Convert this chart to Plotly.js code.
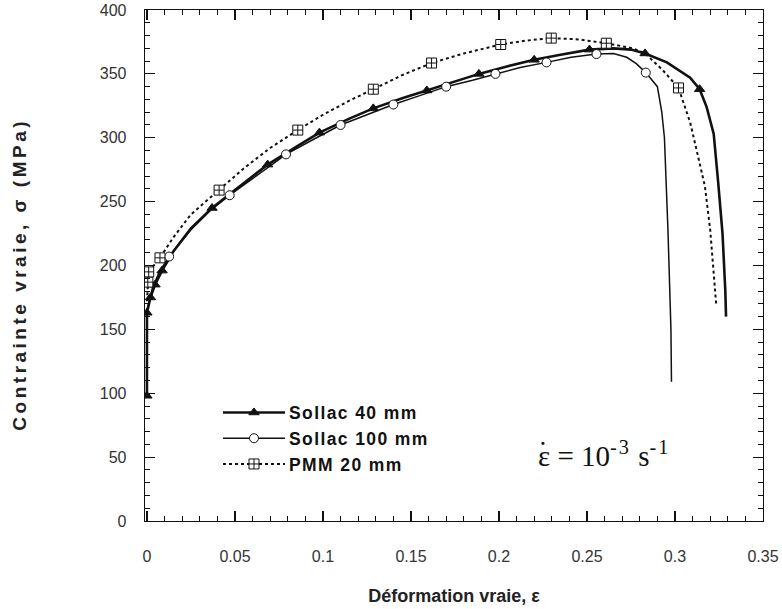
<!DOCTYPE html>
<html>
<head>
<meta charset="utf-8">
<script src="https://cdn.plot.ly/plotly-3.0.1.min.js"></script>
<style>html,body{margin:0;padding:0;background:#fff;}#chart{width:782px;height:609px;}</style>
</head>
<body>
<div id="chart"></div>
<script>
// Sollac 40 mm curve
var s40X = [0, 0, 0.002, 0.0046, 0.0086, 0.015, 0.025, 0.037, 0.05, 0.0686, 0.085, 0.098, 0.115, 0.1286, 0.145, 0.159, 0.175, 0.1886, 0.205, 0.22, 0.235, 0.2514, 0.265, 0.275, 0.283, 0.2954, 0.3086, 0.314, 0.318, 0.322, 0.3246, 0.327, 0.3286, 0.329];
var s40Y = [98, 163, 175, 185, 196, 211, 229, 245, 259, 279, 293, 304, 315, 323, 331, 337, 344, 350, 356, 361, 365, 369, 370, 369, 366, 359, 347, 338, 324, 303, 264, 225, 180, 160];
var s40MX = [0, 0, 0.002, 0.0046, 0.0086, 0.037, 0.0686, 0.098, 0.1286, 0.159, 0.1886, 0.22, 0.2514, 0.283, 0.314];
var s40MY = [98, 163, 175, 185, 196, 245, 279, 304, 323, 337, 350, 361, 369, 366, 338];

// Sollac 100 mm curve
var s100X = [0, 0, 0.003, 0.007, 0.0126, 0.025, 0.035, 0.047, 0.06, 0.079, 0.095, 0.110, 0.125, 0.14, 0.155, 0.170, 0.185, 0.198, 0.212, 0.227, 0.241, 0.2554, 0.265, 0.2726, 0.278, 0.2834, 0.290, 0.2925, 0.294, 0.296, 0.2977, 0.298];
var s100Y = [100, 165, 182, 195, 207, 228, 242, 255, 268, 287, 299, 310, 318, 326, 333, 340, 345, 350, 355, 359, 363, 365.5, 366, 363, 358, 351, 340, 320, 300, 228, 150, 109];
var s100MX = [0.0126, 0.047, 0.079, 0.110, 0.14, 0.170, 0.198, 0.227, 0.2554, 0.2834];
var s100MY = [207, 255, 287, 310, 326, 340, 350, 359, 365.5, 351];

// PMM 20 mm curve
var pmmX = [0, 0.0005, 0.001, 0.0074, 0.015, 0.025, 0.041, 0.055, 0.07, 0.0857, 0.1, 0.115, 0.1286, 0.145, 0.1617, 0.18, 0.201, 0.215, 0.2297, 0.245, 0.261, 0.276, 0.283, 0.293, 0.302, 0.305, 0.3086, 0.312, 0.317, 0.320, 0.3223, 0.3235];
var pmmY = [172, 187, 195, 206, 222, 240, 259, 276, 292, 306, 318, 329, 338, 349, 358.5, 366, 373, 376, 378, 377, 374, 370, 366, 353, 339, 327, 312, 292, 262, 228, 189, 168];
var pmmMX = [0.0005, 0.001, 0.0074, 0.041, 0.0857, 0.1286, 0.1617, 0.201, 0.2297, 0.261, 0.302];
var pmmMY = [187, 195, 206, 259, 306, 338, 358.5, 373, 378, 374, 339];

var names = ['Sollac 40 mm', 'Sollac 100 mm', 'PMM 20 mm'];
var tickVals = [0, 0.05, 0.1, 0.15, 0.2, 0.25, 0.3, 0.35];
var tickText = ['0', '0.05', '0.1', '0.15', '0.2', '0.25', '0.3', '0.35'];

var styles = [
  {line: {color: '#111', width: 2.6, dash: 'solid'}, marker: {symbol: 'triangle-up', size: 9, color: '#111', line: {color: '#111', width: 1}}},
  {line: {color: '#111', width: 1.5, dash: 'solid'}, marker: {symbol: 'circle', size: 9, color: '#fff', line: {color: '#111', width: 1}}},
  {line: {color: '#111', width: 2, dash: 'dot'}, marker: {symbol: 'square-cross', size: 10, color: '#fff', line: {color: '#111', width: 1}}}
];
var curves = [[s40X, s40Y, s40MX, s40MY], [s100X, s100Y, s100MX, s100MY], [pmmX, pmmY, pmmMX, pmmMY]];

var data = [];
curves.forEach(function (c, i) {
  data.push({x: c[0], y: c[1], mode: 'lines', line: styles[i].line, showlegend: false, hoverinfo: 'skip'});
});
curves.forEach(function (c, i) {
  data.push({x: c[2], y: c[3], mode: 'markers', marker: styles[i].marker, showlegend: false});
});
curves.forEach(function (c, i) {
  data.push({x: [null], y: [null], mode: 'lines+markers',
    name: '<span style="letter-spacing:1.4px">' + names[i] + '</span>',
    line: styles[i].line, marker: styles[i].marker, showlegend: true});
});

var sansFont = 'Liberation Sans, Arial, sans-serif';
var axisCommon = {
  showgrid: false, zeroline: false, showline: true, linecolor: '#111', linewidth: 1.3,
  mirror: 'ticks', ticks: 'inside', ticklen: 10, tickwidth: 1.2, tickcolor: '#111',
  tickfont: {family: sansFont, size: 16, color: '#333'}
};

var layout = {
  width: 782, height: 609,
  margin: {l: 145, r: 19, t: 10, b: 88},
  paper_bgcolor: '#fff', plot_bgcolor: '#fff',
  xaxis: Object.assign({}, axisCommon, {
    range: [-0.0011, 0.35], tickmode: 'array', tickvals: tickVals, ticktext: tickText,
    ticklabelstandoff: 20,
    minor: {dtick: 0.01, tick0: 0, ticks: 'inside', ticklen: 5, tickcolor: '#111', tickwidth: 1},
    title: {text: 'Déformation vraie, ε', standoff: 26, font: {family: sansFont, size: 18, weight: 'bold', color: '#222'}}
  }),
  yaxis: Object.assign({}, axisCommon, {
    range: [0, 400], dtick: 50, tick0: 0,
    ticklabelstandoff: 14,
    minor: {dtick: 10, tick0: 0, ticks: 'inside', ticklen: 5, tickcolor: '#111', tickwidth: 1},
    title: {text: '<span style="letter-spacing:3.5px">Contrainte vraie, σ (MPa)\u00A0\u00A0</span>', standoff: 68, font: {family: sansFont, size: 19, weight: 'bold', color: '#222'}}
  }),
  legend: {
    x: 0.1262, y: 0.2474, xanchor: 'left', yanchor: 'top', itemwidth: 56,
    bgcolor: 'rgba(0,0,0,0)', borderwidth: 0, tracegroupgap: 0,
    font: {family: sansFont, size: 17.5, weight: 'bold', color: '#111'}
  },
  annotations: [{
    x: 0.2211, y: 36.8, xref: 'x', yref: 'y', xanchor: 'left', yanchor: 'bottom', showarrow: false,
    text: 'ε = 10<sup><span style="letter-spacing:2px">-3</span></sup> s<sup><span style="letter-spacing:2px">-1</span></sup>',
    font: {family: 'Liberation Serif, Times New Roman, serif', size: 29, color: '#111'}
  }, {
    x: 0.2211, y: 36.8, xref: 'x', yref: 'y', xanchor: 'left', yanchor: 'bottom', showarrow: false,
    xshift: 0, yshift: 4,
    text: '\u02D9',
    font: {family: 'Liberation Serif, Times New Roman, serif', size: 29, color: '#111'}
  }]
};

Plotly.newPlot('chart', data, layout, {displayModeBar: false, staticPlot: true}).then(function (gd) {
  gd.querySelectorAll('.legend .legendlines path').forEach(function (p) { p.setAttribute('d', 'M0,0h62'); });
  gd.querySelectorAll('.legend .legendsymbols path.scatterpts').forEach(function (p) { p.setAttribute('transform', 'translate(31,0)'); });
});
</script>
</body>
</html>
